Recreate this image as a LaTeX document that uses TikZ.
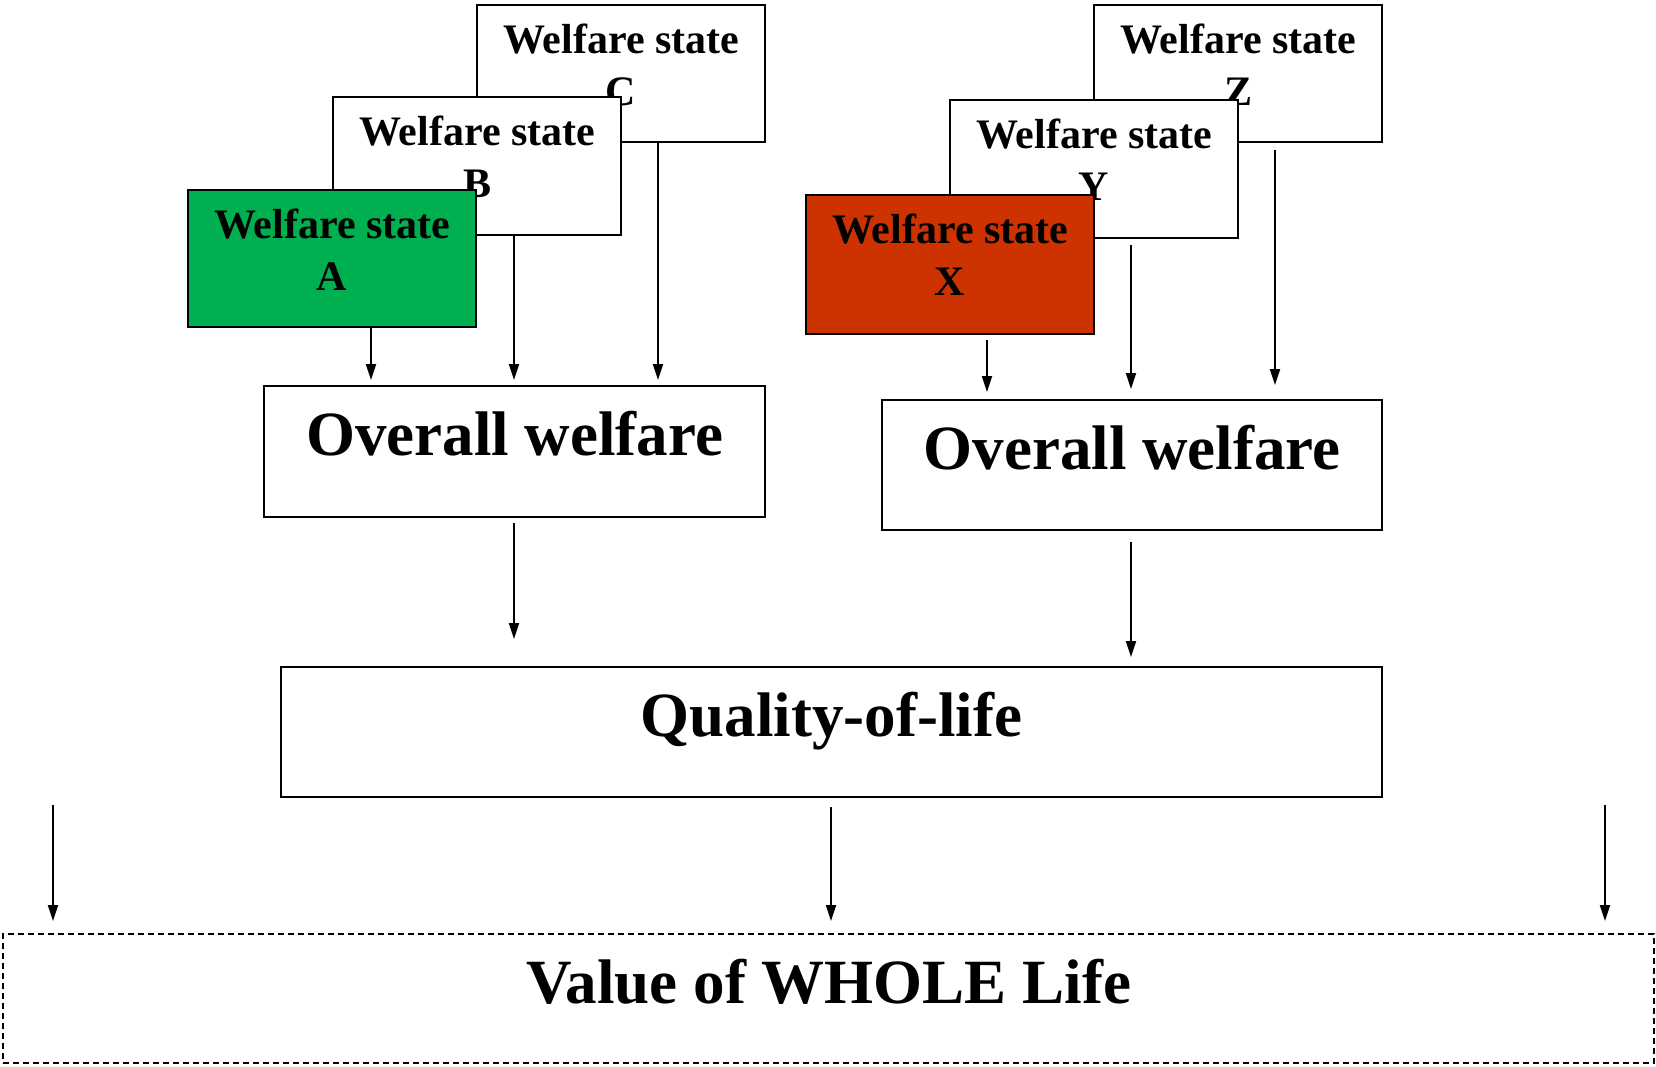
\documentclass[tikz,border=0pt]{standalone}
\usepackage{fontspec}
\setmainfont{Liberation Serif}
\usetikzlibrary{arrows.meta,calc}
\definecolor{stategreen}{RGB}{0,176,80}
\definecolor{statered}{RGB}{204,51,0}
\begin{document}
\begin{tikzpicture}[x=1pt,y=-1pt,
  box/.style={draw=black, line width=2.2pt, fill=white, anchor=north west, inner sep=0pt},
  smalltxt/.style={anchor=base, align=center, font=\fontsize{42}{52}\selectfont\bfseries, inner sep=0pt},
  bigtxt/.style={anchor=base, font=\fontsize{63}{70}\selectfont\bfseries, inner sep=0pt},
  arr/.style={line width=2pt, -{Triangle[length=16pt,width=10pt]}},
]
\useasboundingbox (0,0) rectangle (1656,1066);

% ---- left stack of welfare states (base anchor sits on the second line)
\node[box, minimum width=288pt, minimum height=137pt] (C) at (476,4) {};
\node[smalltxt] (Ct) at ($(C.north)+(0,101)$) {Welfare state\\C};
\node[box, minimum width=288pt, minimum height=138pt] (B) at (332,96) {};
\node[smalltxt] (Bt) at ($(B.north)+(0,101)$) {Welfare state\\B};
\node[box, fill=stategreen, minimum width=288pt, minimum height=137pt] (A) at (187,189) {};
\node[smalltxt] (At) at ($(A.north)+(0,101)$) {Welfare state\\A};

% ---- right stack of welfare states
\node[box, minimum width=288pt, minimum height=137pt] (Z) at (1093,4) {};
\node[smalltxt] (Zt) at ($(Z.north)+(0,101)$) {Welfare state\\Z};
\node[box, minimum width=288pt, minimum height=138pt] (Y) at (949,99) {};
\node[smalltxt] (Yt) at ($(Y.north)+(0,101)$) {Welfare state\\Y};
\node[box, fill=statered, minimum width=288pt, minimum height=139pt] (X) at (805,194) {};
\node[smalltxt] (Xt) at ($(X.north)+(0,101)$) {Welfare state\\X};

% ---- aggregate boxes
\node[box, minimum width=501pt, minimum height=131pt] (OW1) at (263,385) {};
\node[bigtxt] (OW1t) at ($(OW1.north)+(0,70)$) {Overall welfare};
\node[box, minimum width=500pt, minimum height=130pt] (OW2) at (881,399) {};
\node[bigtxt] (OW2t) at ($(OW2.north)+(0,70)$) {Overall welfare};
\node[box, minimum width=1101pt, minimum height=130pt] (Q) at (280,666) {};
\node[bigtxt] (Qt) at ($(Q.north)+(0,70)$) {Quality-of-life};
\node[box, dashed, dash pattern=on 6pt off 4pt, minimum width=1651pt, minimum height=129pt] (V) at (2,933) {};
\node[bigtxt] (Vt) at ($(V.north)+(0,70)$) {Value of WHOLE Life};

% ---- arrow end points
\coordinate (a1) at (371,380);
\coordinate (b1) at (514,380);
\coordinate (c1) at (658,380);
\coordinate (x1) at (987,392);
\coordinate (y1) at (1131,389);
\coordinate (z1) at (1275,385);
\coordinate (o1) at (514,639);
\coordinate (o2) at (1131,657);
\coordinate (q1) at (831,921);
\coordinate (l0) at (53,805);
\coordinate (l1) at (53,921);
\coordinate (r0) at (1605,805);
\coordinate (r1) at (1605,921);

% ---- connectors
\draw[arr] (A.south -| a1) -- (a1);
\draw[arr] (B.south -| b1) -- (b1);
\draw[arr] (C.south -| c1) -- (c1);
\draw[arr] ([yshift=-5pt]X.south -| x1) -- (x1);
\draw[arr] ([yshift=-6pt]Y.south -| y1) -- (y1);
\draw[arr] ([yshift=-7pt]Z.south -| z1) -- (z1);
\draw[arr] ([yshift=-5pt]OW1.south -| o1) -- (o1);
\draw[arr] ([yshift=-11pt]OW2.south -| o2) -- (o2);
\draw[arr] ([yshift=-9pt]Q.south -| q1) -- (q1);
\draw[arr] (l0) -- (l1);
\draw[arr] (r0) -- (r1);
\end{tikzpicture}
\end{document}
